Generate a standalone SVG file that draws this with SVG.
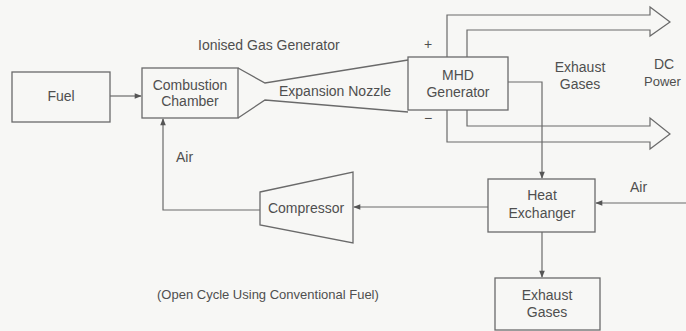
<svg xmlns="http://www.w3.org/2000/svg" width="686" height="331" viewBox="0 0 686 331">
<defs>
<style>
.bx{fill:none;stroke:#6a6a6a;stroke-width:1.3}
.ln{fill:none;stroke:#6a6a6a;stroke-width:1.2}
.t{font-family:"Liberation Sans",Arial,sans-serif;font-size:14px;fill:#4f4f4f}
.s{font-size:13px}
.m{text-anchor:middle}
</style>
<marker id="ah" viewBox="0 0 10 10" refX="9" refY="5" markerWidth="8" markerHeight="7" orient="auto" markerUnits="userSpaceOnUse">
<path d="M0,1 L10,5 L0,9 z" fill="#555"/>
</marker>
</defs>
<rect width="686" height="331" fill="#f7f7f5"/>
<g id="fuel"><rect class="bx" x="12" y="72" width="98" height="50"/><text class="t m" x="61" y="101">Fuel</text></g>
<g id="combustion"><rect class="bx" x="142" y="68" width="96" height="50"/><text class="t m" x="190" y="90">Combustion</text><text class="t m" x="190" y="106">Chamber</text></g>
<g id="nozzle"><path class="bx" d="M238,68 L265,83 L408,60 M238,118 L265,100 L408,112"/><text class="t m" x="335" y="96">Expansion Nozzle</text></g>
<g id="mhd"><rect class="bx" x="408" y="57" width="100" height="53"/><text class="t m" x="458" y="80">MHD</text><text class="t m" x="458" y="97">Generator</text></g>
<g id="heatx"><rect class="bx" x="488" y="179" width="107" height="53"/><text class="t m" x="542" y="200">Heat</text><text class="t m" x="542" y="218">Exchanger</text></g>
<g id="exhaust2"><rect class="bx" x="495" y="278" width="105" height="52"/><text class="t m" x="547" y="300">Exhaust</text><text class="t m" x="547" y="317">Gases</text></g>
<g id="compressor"><path class="bx" d="M260,192 L353,172 L353,243 L260,225 Z"/><text class="t m" x="306" y="213">Compressor</text></g>
<g id="dcpower">
<path class="ln" d="M447,57 V15 H650 V7 L670,22 L650,36 V30 H467 V57"/>
<path class="ln" d="M447,110 V142 H650 V149 L670,134 L650,118 V126 H467 V110"/>
</g>
<g id="connectors">
<line class="ln" x1="110" y1="96" x2="141" y2="96" marker-end="url(#ah)"/>
<path class="ln" d="M260,210 H163 V119" marker-end="url(#ah)"/>
<line class="ln" x1="488" y1="207" x2="354" y2="207" marker-end="url(#ah)"/>
<line class="ln" x1="686" y1="203" x2="596" y2="203" marker-end="url(#ah)"/>
<path class="ln" d="M508,82 H542 V178" marker-end="url(#ah)"/>
<line class="ln" x1="542" y1="232" x2="542" y2="277" marker-end="url(#ah)"/>
</g>
<g id="labels">
<text class="t" x="198" y="50">Ionised Gas Generator</text>
<text class="t m" x="428" y="49">+</text>
<text class="t m" x="428" y="123">−</text>
<text class="t m" x="580" y="72">Exhaust</text>
<text class="t m" x="580" y="89">Gases</text>
<text class="t m" x="664" y="69">DC</text>
<text class="t s" x="644" y="86">Power</text>
<text class="t" x="176" y="162">Air</text>
<text class="t" x="630" y="192">Air</text>
<text class="t s" x="157" y="299">(Open Cycle Using Conventional Fuel)</text>
</g>
</svg>
